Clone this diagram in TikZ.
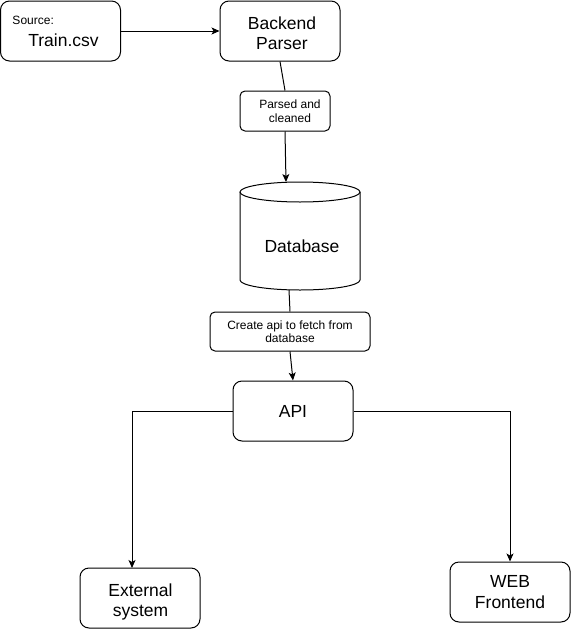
\documentclass[tikz,border=0pt]{standalone}
\usepackage{fontspec}
\setmainfont{Liberation Sans}
\usetikzlibrary{arrows.meta}
\begin{document}
\begin{tikzpicture}[x=1pt,y=-1pt,line width=1pt,
  box/.style={draw,rounded corners=9pt,minimum width=120pt,minimum height=60pt,inner sep=0pt,align=center,font=\fontsize{17.5}{20.5}\selectfont},
  lbl/.style={draw,fill=white,rounded corners=5pt,inner sep=0pt,align=center,font=\fontsize{12}{13.5}\selectfont},
  big/.style={inner sep=0pt,align=center,font=\fontsize{17.5}{20.5}\selectfont},
  small/.style={inner sep=0pt,font=\fontsize{12}{13.5}\selectfont},
  arr/.style={-{Stealth[length=8pt,width=7pt,inset=2pt]}}]
\useasboundingbox (0,0) rectangle (571,629);
% nodes
\node[box] (src) at (60.5,31) {};
\node[small,anchor=base west] (srclbl) at (12,24) {Source:};
\node[big,anchor=base] (srctxt) at (63.5,46) {Train.csv};
\node[box] (bp) at (280,31) {};
\node[big] (bptxt) at (282,33) {Backend\\Parser};
\node[lbl,minimum width=90pt,minimum height=40pt] (l1) at (285,111) {\hspace*{10pt}Parsed and\\\hspace*{10pt}cleaned};
% database cylinder
\draw (240,192) -- (240,280) arc[start angle=180,end angle=360,x radius=60pt,y radius=10pt] -- (360,192);
\draw (300,192) ellipse[x radius=60pt,y radius=10pt];
\node[big] (db) at (302,246) {Database};
\coordinate (dbtop) at (286,182);
\coordinate (dbbot) at (289,290);
\node[lbl,minimum width=160pt,minimum height=39pt] (l2) at (290,331.5) {Create api to fetch from\\database};
\node[box] (api) at (293,411) {API};
\node[box] (ext) at (140,598) {};
\node[big] (exttxt) at (140.5,602) {External\\system};
\node[box] (wf) at (510,592) {WEB\\Frontend};
\coordinate (extin) at (132,568);
% connectors
\draw[arr] (src.east) -- (bp.west);
\draw (bp.south) -- (l1.north);
\draw[arr] (l1.south) -- (dbtop);
\draw (dbbot) -- (l2.north);
\draw[arr] (l2.south) -- (api.north);
\draw[arr] (api.west) -| (extin);
\draw[arr] (api.east) -| (wf.north);
\end{tikzpicture}
\end{document}
